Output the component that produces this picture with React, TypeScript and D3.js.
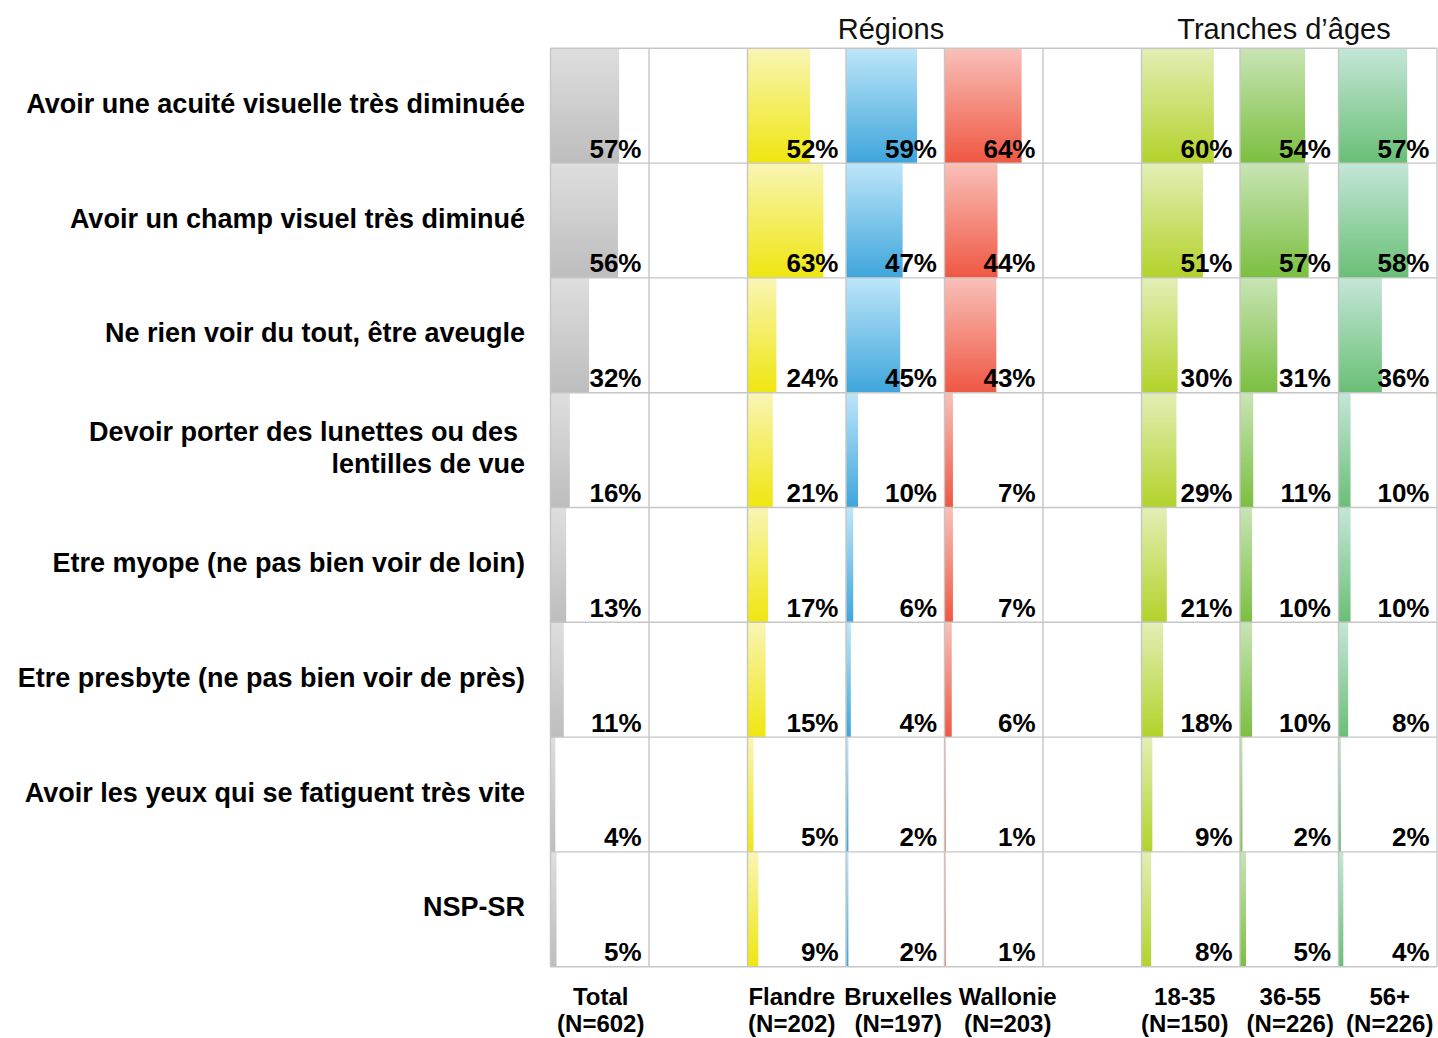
import React from "react";
import * as d3 from "d3";

// ---------- data ----------
const items = [
  ["Avoir une acuité visuelle très diminuée"],
  ["Avoir un champ visuel très diminué"],
  ["Ne rien voir du tout, être aveugle"],
  ["Devoir porter des lunettes ou des", "lentilles de vue"],
  ["Etre myope (ne pas bien voir de loin)"],
  ["Etre presbyte (ne pas bien voir de près)"],
  ["Avoir les yeux qui se fatiguent très vite"],
  ["NSP-SR"],
];

const groups = ["Total", "Flandre", "Bruxelles", "Wallonie", "18-35", "36-55", "56+"];
const groupN = ["(N=602)", "(N=202)", "(N=197)", "(N=203)", "(N=150)", "(N=226)", "(N=226)"];

const total = [57, 56, 32, 16, 13, 11, 4, 5];
const flandre = [52, 63, 24, 21, 17, 15, 5, 9];
const bruxelles = [59, 47, 45, 10, 6, 4, 2, 2];
const wallonie = [64, 44, 43, 7, 7, 6, 1, 1];
const age1835 = [60, 51, 30, 29, 21, 18, 9, 8];
const age3655 = [54, 57, 31, 11, 10, 10, 2, 5];
const age56 = [57, 58, 36, 10, 10, 8, 2, 4];

const series = [total, flandre, bruxelles, wallonie, age1835, age3655, age56];

const headerRegions = "Régions";
const headerAges = "Tranches d’âges";

// ---------- layout / style ----------
const W = 1438;
const H = 1038;
const gridLeft = 550.5;
const colW = 98.5;
const nCols = 9;
const gridTop = 48.3;
const rowH = 114.8;
const colIndex = [0, 2, 3, 4, 6, 7, 8];
const catLabelDx = [1, -5, 3, 14, -6, 1, 2];
const colors = [
  ["#dedede", "#bdbdbd"],
  ["#f9f5b4", "#efe60f"],
  ["#bde6f9", "#3ea5dc"],
  ["#f9c0b9", "#ef5742"],
  ["#e3eeb6", "#b3d22a"],
  ["#c8e4b5", "#7bbf3f"],
  ["#c4e6d8", "#69bf75"],
];
const FONT = "'Liberation Sans', Arial, Helvetica, sans-serif";
const LABEL_SIZE = 27;

export default function App() {
  const x = d3
    .scaleBand<number>()
    .domain(d3.range(nCols))
    .range([gridLeft, gridLeft + colW * nCols])
    .padding(0);
  const y = d3
    .scaleBand<number>()
    .domain(d3.range(items.length))
    .range([gridTop, gridTop + rowH * items.length])
    .padding(0);
  const w = d3.scaleLinear().domain([0, 100]).range([0, 120.5]);

  const gridBottom = gridTop + rowH * items.length;
  const gridRight = gridLeft + colW * nCols;

  return (
    <svg
      width={W}
      height={H}
      style={{ position: "absolute", left: 0, top: 0, background: "#fff" }}
      fontFamily={FONT}
    >
      <defs>
        {colors.map((c, i) => (
          <linearGradient key={i} id={`g${i}`} x1="0" y1="0" x2="0" y2="1">
            <stop offset="0%" stopColor={c[0]} />
            <stop offset="100%" stopColor={c[1]} />
          </linearGradient>
        ))}
      </defs>

      {/* headers */}
      <text x={891} y={38.5} fontSize={29} textAnchor="middle" fill="#111">
        {headerRegions}
      </text>
      <text x={1284} y={38.5} fontSize={29} textAnchor="middle" fill="#111">
        {headerAges}
      </text>

      {/* bars */}
      {series.map((vals, si) =>
        vals.map((v, ri) => (
          <rect
            key={`b${si}-${ri}`}
            x={x(colIndex[si])!}
            y={y(ri)!}
            width={w(v)}
            height={y.bandwidth()}
            fill={`url(#g${si})`}
          />
        ))
      )}

      {/* grid */}
      <g stroke="#c6c6c6" strokeWidth={1.4}>
        {d3.range(nCols + 1).map((i) => (
          <line
            key={`v${i}`}
            x1={gridLeft + colW * i}
            x2={gridLeft + colW * i}
            y1={gridTop}
            y2={gridBottom}
          />
        ))}
        {d3.range(items.length + 1).map((i) => (
          <line
            key={`h${i}`}
            x1={gridLeft}
            x2={gridRight}
            y1={gridTop + rowH * i}
            y2={gridTop + rowH * i}
          />
        ))}
      </g>

      {/* value labels */}
      {series.map((vals, si) =>
        vals.map((v, ri) => (
          <text
            key={`t${si}-${ri}`}
            x={x(colIndex[si])! + colW - 7.5}
            y={y(ri)! + rowH - 5.5}
            fontSize={26}
            fontWeight="bold"
            textAnchor="end"
            fill="#000"
          >
            {`${v}%`}
          </text>
        ))
      )}

      {/* row labels */}
      {items.map((lines, ri) => {
        const cy = y(ri)! + rowH / 2;
        if (lines.length === 1) {
          return (
            <text
              key={`r${ri}`}
              x={525}
              y={cy + 7}
              fontSize={LABEL_SIZE}
              fontWeight="bold"
              textAnchor="end"
              fill="#000"
            >
              {lines[0]}
            </text>
          );
        }
        return (
          <g key={`r${ri}`}>
            <text x={518} y={cy - 9} fontSize={LABEL_SIZE} fontWeight="bold" textAnchor="end" fill="#000">
              {lines[0]}
            </text>
            <text x={525} y={cy + 22.5} fontSize={LABEL_SIZE} fontWeight="bold" textAnchor="end" fill="#000">
              {lines[1]}
            </text>
          </g>
        );
      })}

      {/* category labels */}
      {groups.map((g, i) => {
        const cx = x(colIndex[i])! + colW / 2 + catLabelDx[i];
        return (
          <g key={`c${i}`} fontSize={24} fontWeight="bold" fill="#000" textAnchor="middle">
            <text x={cx} y={1005}>
              {g}
            </text>
            <text x={cx} y={1032}>
              {groupN[i]}
            </text>
          </g>
        );
      })}
    </svg>
  );
}
